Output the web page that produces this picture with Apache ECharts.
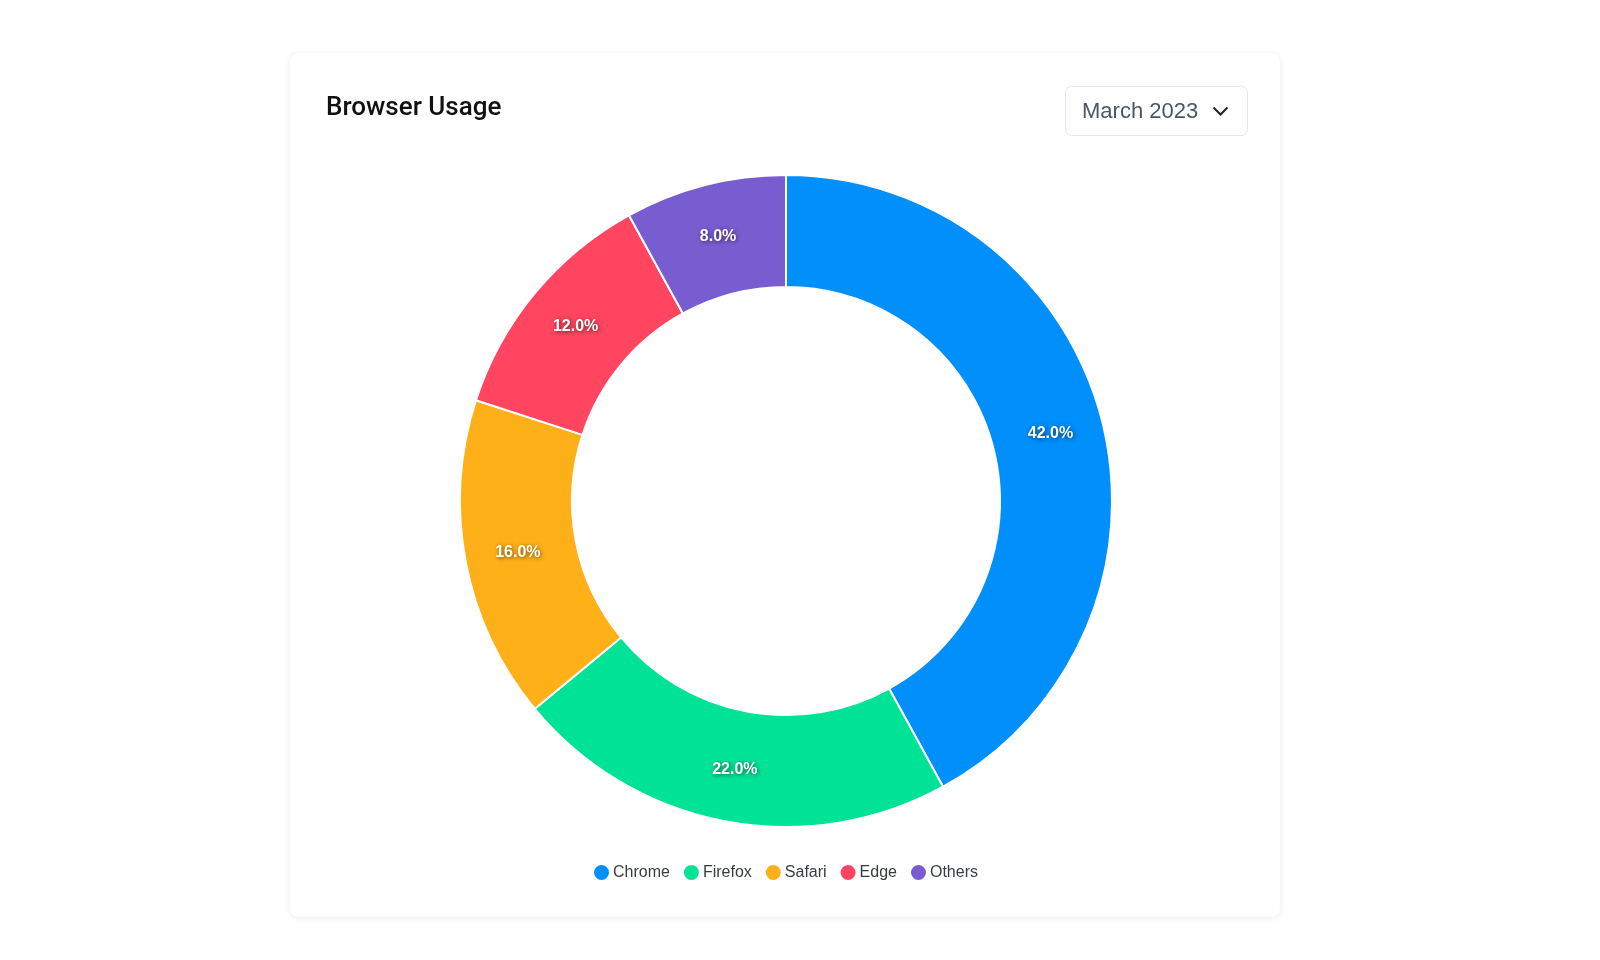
<!DOCTYPE html>
<html>
<head>
<meta charset="utf-8">
<script src="https://cdn.jsdelivr.net/npm/echarts@6/dist/echarts.min.js"></script>
<style>
  html, body { margin: 0; padding: 0; background: #ffffff; width: 1600px; height: 960px; overflow: hidden; }
  #card {
    position: absolute; left: 290px; top: 53px; width: 990px; height: 864px;
    background: #fff; border-radius: 8px;
    box-shadow: 0 1px 6px rgba(0,0,0,0.08), 0 0 1px rgba(0,0,0,0.06);
  }
  #chart { width: 990px; height: 864px; }
</style>
</head>
<body>
<div id="card"><div id="chart"></div></div>
<script>
const categories = ['Chrome', 'Firefox', 'Safari', 'Edge', 'Others'];
const values = [42, 22, 16, 12, 8];
const colors = ['#008FFB', '#00E396', '#FEB019', '#FF4560', '#775DD0'];
const titleText = 'Browser Usage';
const periodText = 'March 2023';

const FONT = '"Liberation Sans", Arial, Helvetica, sans-serif';
const TITLE_FONT = 'Roboto, "Liberation Sans", Arial, sans-serif';
const chart = echarts.init(document.getElementById('chart'), null, { renderer: 'canvas' });

chart.setOption({
  color: colors,
  textStyle: { fontFamily: FONT },
  title: {
    text: titleText,
    left: 31, top: 37,
    textStyle: { fontFamily: TITLE_FONT, fontSize: 26, fontWeight: 500, color: '#111111' }
  },
  legend: {
    bottom: 30,
    left: 'center',
    icon: 'circle',
    itemWidth: 17, itemHeight: 17, itemGap: 12,
    textStyle: { fontFamily: FONT, fontSize: 16, color: '#373d3f', padding: [0, 0, 0, -2] },
    data: categories
  },
  graphic: [
    {
      type: 'rect', left: 775, top: 33,
      shape: { width: 182, height: 49, r: 6 },
      style: { fill: '#ffffff', stroke: '#e5e7eb', lineWidth: 1 }
    },
    {
      type: 'text', left: 792, top: 48,
      style: { text: periodText, font: '22px ' + FONT, fill: '#4b5563' }
    },
    {
      type: 'polyline', left: 921, top: 52,
      shape: { points: [[0, 0], [7, 7], [14, 0]] },
      style: { stroke: '#222', lineWidth: 2, fill: null }
    }
  ],
  series: [{
    type: 'pie',
    center: [496, 448],
    radius: [214, 326],
    startAngle: 90,
    clockwise: true,
    avoidLabelOverlap: false,
    itemStyle: { borderColor: '#ffffff', borderWidth: 2 },
    label: {
      show: true,
      position: 'inside',
      formatter: p => p.percent.toFixed(1) + '%',
      fontFamily: FONT,
      fontSize: 16,
      fontWeight: 'bold',
      color: '#ffffff',
      textShadowColor: 'rgba(0,0,0,0.6)',
      textShadowBlur: 4,
      textShadowOffsetX: 1,
      textShadowOffsetY: 1
    },
    labelLine: { show: false },
    emphasis: { scale: false },
    data: categories.map((c, i) => ({ name: c, value: values[i] }))
  }]
});
</script>
</body>
</html>
